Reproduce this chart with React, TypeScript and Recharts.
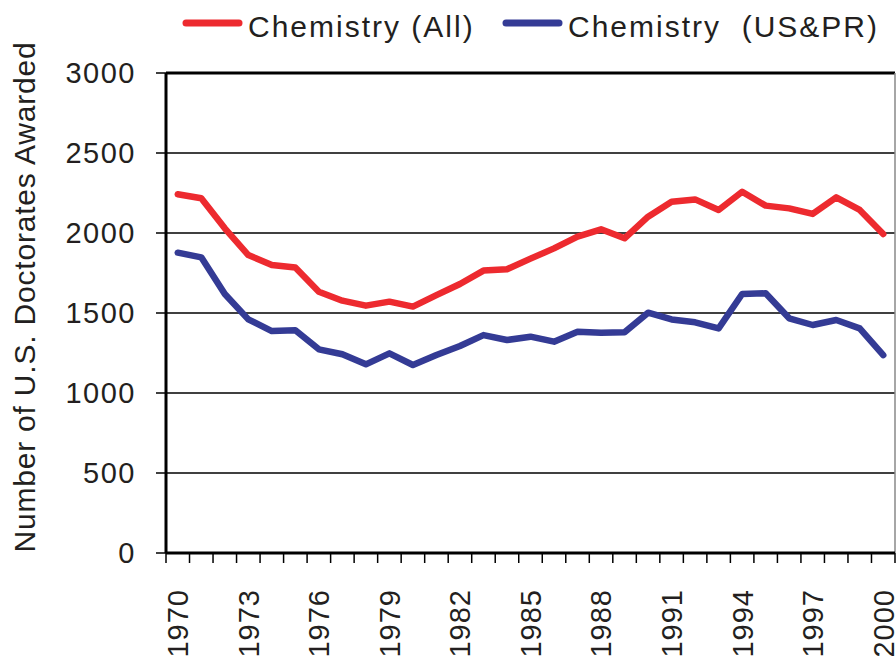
import React from 'react';
import { LineChart, Line, XAxis, YAxis, CartesianGrid, ReferenceLine, Legend } from 'recharts';

const years = [1970,1971,1972,1973,1974,1975,1976,1977,1978,1979,1980,1981,1982,1983,1984,1985,1986,1987,1988,1989,1990,1991,1992,1993,1994,1995,1996,1997,1998,1999,2000];
const chemAll = [2242,2217,2029,1862,1800,1785,1633,1577,1546,1571,1540,1612,1681,1765,1773,1840,1904,1977,2023,1967,2102,2196,2210,2144,2258,2171,2154,2119,2223,2144,1994];
const chemUS = [1877,1848,1619,1460,1387,1392,1273,1242,1179,1248,1175,1237,1294,1362,1331,1352,1321,1383,1377,1379,1502,1460,1442,1404,1619,1623,1467,1425,1456,1404,1237];
const labelYears = [1970,1973,1976,1979,1982,1985,1988,1991,1994,1997,2000];
const yTicks = [0,500,1000,1500,2000,2500,3000];
const seriesNames = ['Chemistry (All)', 'Chemistry  (US&PR)'];
const RED = '#ED2A2F';
const BLUE = '#343B95';
const TEXT = '#231F20';
const FONT = '"Liberation Sans", Arial, Helvetica, sans-serif';

const data = years.map((y, i) => ({ year: y, all: chemAll[i], us: chemUS[i] }));
const boundaryTicks = [...years.map((y) => y - 0.5), years[years.length - 1] + 0.5];
const xTicks = [...boundaryTicks, ...labelYears].sort((a, b) => a - b);

const XTick = (props: any) => {
  const { x, y, payload } = props;
  const v = payload.value;
  if (!Number.isInteger(v)) {
    return <line x1={x} y1={y} x2={x} y2={y + 10} stroke="#000" strokeWidth={1.5} />;
  }
  if (!labelYears.includes(v)) return null;
  const ty = y + 36;
  return (
    <text x={x} y={ty} transform={`rotate(-90, ${x}, ${ty})`} textAnchor="end" dy="0.36em"
      fontSize={29} letterSpacing={1} fill={TEXT} fontFamily={FONT}>{v}</text>
  );
};

const YTick = (props: any) => {
  const { x, y, payload } = props;
  return (
    <text x={x} y={y} textAnchor="end" dy="0.36em" fontSize={29} letterSpacing={1.5} fill={TEXT} fontFamily={FONT}>
      {payload.value}
    </text>
  );
};

const LegendContent = () => {
  const items = [
    { name: seriesNames[0], color: RED, x: 183 },
    { name: seriesNames[1], color: BLUE, x: 503 },
  ];
  return (
    <svg width={896} height={50} style={{ display: 'block' }}>
      {items.map((it) => (
        <g key={it.name}>
          <line x1={it.x + 3} y1={23} x2={it.x + 56} y2={23} stroke={it.color} strokeWidth={7} strokeLinecap="round" />
          <text x={it.x + 65} y={37} fontSize={30} letterSpacing={2} fill={TEXT} fontFamily={FONT} style={{ whiteSpace: 'pre' }}>
            {it.name}
          </text>
        </g>
      ))}
    </svg>
  );
};

const YLabel = (props: any) => {
  const vb = props.viewBox || {};
  const cx = 24;
  const cy = (vb.y ?? 73) + (vb.height ?? 480) / 2 - 16;
  return (
    <text x={cx} y={cy} transform={`rotate(-90, ${cx}, ${cy})`} textAnchor="middle" dy="0.36em"
      fontSize={30} letterSpacing={0.8} fill={TEXT} fontFamily={FONT}>
      Number of U.S. Doctorates Awarded
    </text>
  );
};

export default function App() {
  return (
    <div style={{ position: 'absolute', top: 0, left: 0, width: 896, height: 658, background: '#fff', overflow: 'hidden' }}>
      <LineChart width={896} height={658} data={data} margin={{ top: 73, right: 1, bottom: 0, left: 0 }}>
        <CartesianGrid vertical={false} stroke="#000" strokeWidth={1.5} horizontalValues={yTicks} />
        <XAxis type="number" dataKey="year" domain={[1969.5, 2000.5]} ticks={xTicks} interval={0}
          tick={<XTick />} tickLine={false} tickSize={0} tickMargin={0} height={105}
          axisLine={{ stroke: '#000', strokeWidth: 3 }} allowDataOverflow />
        <YAxis type="number" domain={[0, 3000]} ticks={yTicks} interval={0} width={166}
          tick={<YTick />} tickSize={10} tickMargin={20} tickLine={{ stroke: '#000', strokeWidth: 1.5 }}
          axisLine={{ stroke: '#000', strokeWidth: 3 }} label={<YLabel />} />
        <ReferenceLine y={3000} stroke="#000" strokeWidth={3} />
        <ReferenceLine x={2000.5} stroke="#888" strokeWidth={1.5} />
        <Legend verticalAlign="middle" align="center" layout="horizontal" content={<LegendContent />}
          wrapperStyle={{ top: 0, left: 0, width: 896, height: 50 }} />
        <Line type="linear" dataKey="all" name={seriesNames[0]} stroke={RED} strokeWidth={6.5} dot={false}
          strokeLinejoin="round" strokeLinecap="round" isAnimationActive={false} />
        <Line type="linear" dataKey="us" name={seriesNames[1]} stroke={BLUE} strokeWidth={6.5} dot={false}
          strokeLinejoin="round" strokeLinecap="round" isAnimationActive={false} />
      </LineChart>
    </div>
  );
}
